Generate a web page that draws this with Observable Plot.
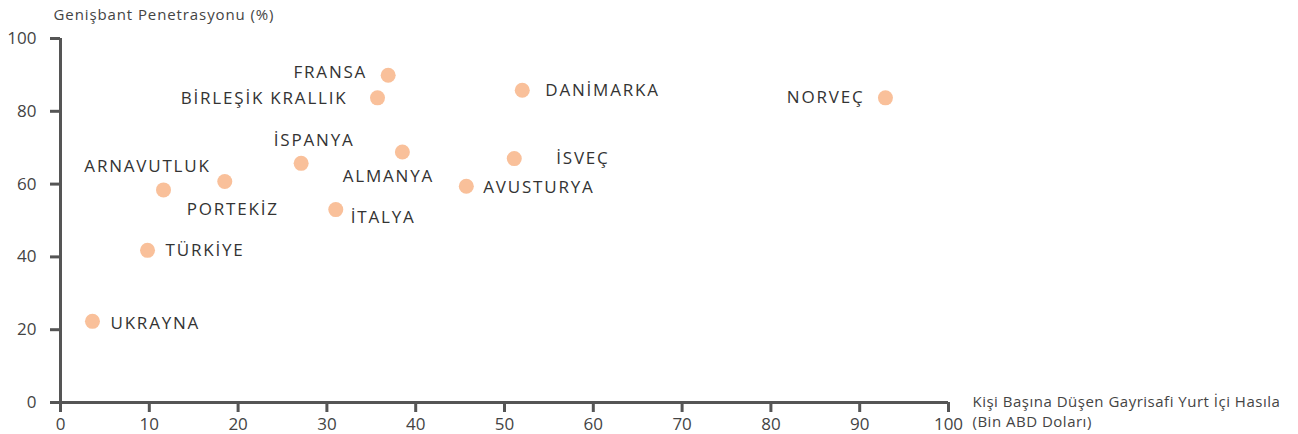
<!DOCTYPE html>
<html>
<head>
<meta charset="utf-8">
<script src="https://cdn.jsdelivr.net/npm/d3@7"></script>
<script src="https://cdn.jsdelivr.net/npm/@observablehq/plot@0.6"></script>
<style>
  html, body { margin: 0; padding: 0; background: #fff; }
  svg { display: block; }
</style>
</head>
<body>
<div id="chart"></div>
<script>
// ---- Data ----
const countries = ["UKRAYNA", "TÜRKİYE", "ARNAVUTLUK", "PORTEKİZ", "İSPANYA", "İTALYA", "BİRLEŞİK KRALLIK", "FRANSA", "ALMANYA", "AVUSTURYA", "İSVEÇ", "DANİMARKA", "NORVEÇ"];
const gdpPerCapita = [3.6, 9.8, 11.6, 18.5, 27.1, 31.0, 35.7, 36.9, 38.5, 45.7, 51.1, 52.0, 92.9];
const broadband = [22.3, 41.8, 58.4, 60.7, 65.7, 53.0, 83.7, 89.9, 68.8, 59.4, 67.0, 85.8, 83.7];
const xTicks = [0, 10, 20, 30, 40, 50, 60, 70, 80, 90, 100];
const yTicks = [0, 20, 40, 60, 80, 100];
const yTitle = "Genişbant Penetrasyonu (%)";
const xTitle = "Kişi Başına Düşen Gayrisafi Yurt İçi Hasıla\n(Bin ABD Doları)";

const data = countries.map((c, i) => ({name: c, x: gdpPerCapita[i], y: broadband[i]}));

// ---- Label placement (style, not data) ----
const placement = {
  "UKRAYNA": {anchor: "start", dx: 18, dy: 2},
  "TÜRKİYE": {anchor: "start", dx: 18, dy: 0},
  "ARNAVUTLUK": {anchor: "middle", dx: -16, dy: -23},
  "PORTEKİZ": {anchor: "middle", dx: 8, dy: 28},
  "İSPANYA": {anchor: "middle", dx: 13, dy: -23},
  "İTALYA": {anchor: "start", dx: 15, dy: 8},
  "BİRLEŞİK KRALLIK": {anchor: "end", dx: -30, dy: 1},
  "FRANSA": {anchor: "end", dx: -21, dy: -3},
  "ALMANYA": {anchor: "middle", dx: -14, dy: 24},
  "AVUSTURYA": {anchor: "start", dx: 17, dy: 1},
  "İSVEÇ": {anchor: "start", dx: 42, dy: 0},
  "DANİMARKA": {anchor: "start", dx: 23, dy: 0},
  "NORVEÇ": {anchor: "end", dx: -21, dy: 0}
};

const font = "'Open Sans', 'Noto Sans', sans-serif";
const axisColor = "#555";

const labelMarks = countries.map(name => {
  const p = placement[name];
  return Plot.text(data.filter(d => d.name === name), {
    x: "x", y: "y", text: "name",
    textAnchor: p.anchor, dx: p.dx, dy: p.dy,
    fill: "#333", fontSize: 17, lineAnchor: "middle"
  });
});

const chart = Plot.plot({
  width: 1298,
  height: 434,
  marginLeft: 60,
  marginRight: 350,
  marginTop: 38,
  marginBottom: 32,
  style: {fontFamily: font, background: "#fff", color: "#444", overflow: "visible"},
  x: {domain: [0, 100]},
  y: {domain: [0, 100]},
  marks: [
    Plot.axisX({ticks: xTicks, tickSize: 10, tickPadding: 5, stroke: axisColor, strokeWidth: 3, fontSize: 17, label: null, fill: "#444"}),
    Plot.axisY({ticks: yTicks, tickSize: 10, tickPadding: 14, stroke: axisColor, strokeWidth: 3, fontSize: 17, label: null, fill: "#444"}),
    Plot.ruleY([0], {stroke: axisColor, strokeWidth: 3}),
    Plot.ruleX([0], {stroke: axisColor, strokeWidth: 3}),
    Plot.dot(data, {x: "x", y: "y", r: 7.5, fill: "#F9C09A", stroke: "none"}),
    ...labelMarks,
    Plot.text([yTitle], {frameAnchor: "top-left", dx: -7, dy: -23, textAnchor: "start", lineAnchor: "middle", fontSize: 15, fill: "#444"}),
    Plot.text([xTitle], {frameAnchor: "bottom-right", dx: 24, dy: -10, textAnchor: "start", lineAnchor: "top", lineHeight: 1.33, fontSize: 15, fill: "#444"})
  ]
});

// letter-spacing tweaks applied to rendered text elements
const countrySet = new Set(countries);
d3.select(chart).selectAll("text").each(function () {
  const t = this.textContent;
  if (countrySet.has(t)) this.style.letterSpacing = "1.8px";
  else if (t === yTitle) this.style.letterSpacing = "0.9px";
  else if (xTitle.replace("\n", "") === t || xTitle.split("\n").includes(t)) this.style.letterSpacing = "0.5px";
});

document.getElementById("chart").appendChild(chart);
</script>
</body>
</html>
